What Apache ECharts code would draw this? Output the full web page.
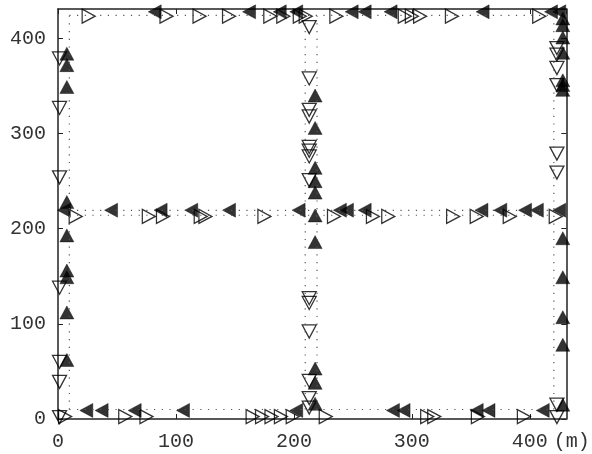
<!DOCTYPE html>
<html>
<head>
<meta charset="utf-8">
<script src="https://cdn.jsdelivr.net/npm/echarts@6/dist/echarts.min.js"></script>
<style>
  html, body { margin: 0; padding: 0; background: #fff; }
  #chart { width: 592px; height: 454px; }
</style>
</head>
<body>
<div id="chart"></div>
<script>
// Road network (m): lane centre lines drawn dotted
const roadX = [9.6, 209.6, 219.6, 420.4];      // north-south lanes
const roadY = [424.4, 219.4, 214.2, 10];       // east-west lanes
const roadSpan = [10, 424];

// Southbound vehicles: one lane per avenue
const southLaneX = [1.3, 213, 423];
const southY = [
  [379, 327, 254, 138, 60, 39, 2],
  [412, 358, 325, 318, 286, 282, 276, 251, 127, 122, 92, 40, 22, 12],
  [390, 383, 369, 351, 279, 259, 15, 2]
];

// Northbound vehicles
const northLaneX = [7.5, 218, 428];
const northY = [
  [384, 372, 349, 228, 193, 156, 149, 112, 62],
  [340, 306, 264, 250, 238, 214, 186, 53, 38, 16],
  [421, 414, 401, 385, 356, 351, 346, 190, 149, 107, 78, 15]
];

// Eastbound vehicles: one lane per street
const eastLaneY = [423.5, 213, 2.5];
const eastX = [
  [26, 92, 120, 145, 180, 191, 205, 210, 236, 294, 300, 307, 334, 408],
  [15, 77, 89, 121, 125, 175, 234, 267, 280, 335, 355, 383, 422],
  [6, 57, 75, 165, 173, 181, 189, 199, 227, 313, 319, 356, 395]
];

// Westbound vehicles
const westLaneY = [428, 219.5, 9];
const westX = [
  [82, 162, 188, 202, 249, 260, 282, 360, 418, 425],
  [5, 45, 87, 113, 145, 204, 239, 245, 260, 359, 375, 396, 406, 425],
  [24, 37, 65, 106, 202, 284, 293, 355, 365, 411]
];

const xTicks = [0, 100, 200, 300, 400];
const yTicks = [0, 100, 200, 300, 400];
const axisMax = 431;

const SYM = {
  up: 'path://M5,0L10,10L0,10Z',
  down: 'path://M0,0L10,0L5,10Z',
  right: 'path://M0,0L10,5L0,10Z',
  left: 'path://M10,0L0,5L10,10Z'
};

const FONT = 'Liberation Mono';
const FONT_SIZE = 20;
const AX = '#222';

function vertPoints(laneX, ys) {
  const out = [];
  laneX.forEach((x, i) => ys[i].forEach(y => out.push([x, y])));
  return out;
}
function horzPoints(laneY, xs) {
  const out = [];
  laneY.forEach((y, i) => xs[i].forEach(x => out.push([x, y])));
  return out;
}

const series = [];
roadX.forEach(x => series.push({
  type: 'line', silent: true, symbol: 'none',
  data: [[x, roadSpan[0]], [x, roadSpan[1]]],
  lineStyle: { color: '#555', width: 1.2, type: [1.2, 6.5] }
}));
roadY.forEach(y => series.push({
  type: 'line', silent: true, symbol: 'none',
  data: [[roadSpan[0] - 0.4, y], [roadSpan[1] - 3.6, y]],
  lineStyle: { color: '#555', width: 1.2, type: [1.2, 6.5] }
}));

const openStyle = { color: 'rgba(0,0,0,0)', borderColor: '#000', borderWidth: 1.3 };
const filledStyle = { color: '#000', borderColor: '#000', borderWidth: 0.5 };

series.push({
  type: 'scatter', silent: true, symbol: SYM.down, symbolSize: [14, 13],
  data: vertPoints(southLaneX, southY), itemStyle: openStyle
});
series.push({
  type: 'scatter', silent: true, symbol: SYM.right, symbolSize: [13, 14],
  data: horzPoints(eastLaneY, eastX), itemStyle: openStyle
});
series.push({
  type: 'scatter', silent: true, symbol: SYM.up, symbolSize: [14, 13],
  data: vertPoints(northLaneX, northY), itemStyle: filledStyle
});
series.push({
  type: 'scatter', silent: true, symbol: SYM.left, symbolSize: [13, 14],
  data: horzPoints(westLaneY, westX), itemStyle: filledStyle
});

const tickFmt = ticks => v => (ticks.indexOf(v) >= 0 ? String(v) : '');

function frameAxis(position, extra) {
  return Object.assign({
    type: 'value', min: 0, max: axisMax, interval: 100, position: position,
    axisLine: { onZero: false, lineStyle: { color: AX, width: 1.5 } },
    axisTick: { inside: true, length: 5, lineStyle: { color: AX, width: 1 } },
    axisLabel: { show: false },
    splitLine: { show: false }
  }, extra || {});
}

const chart = echarts.init(document.getElementById('chart'), null, { renderer: 'canvas' });
chart.setOption({
  animation: false,
  backgroundColor: '#fff',
  grid: { left: 58, right: 16, top: 9, bottom: 35, containLabel: false },
  xAxis: [
    frameAxis('bottom', {
      axisLabel: { fontFamily: FONT, fontSize: FONT_SIZE, color: '#333', margin: 13,
                   showMaxLabel: false, formatter: tickFmt(xTicks) },
      name: '(m)', nameLocation: 'end', nameGap: -17,
      nameTextStyle: { fontFamily: FONT, fontSize: FONT_SIZE, color: '#333',
                       verticalAlign: 'top', padding: [13, 0, 0, 0] }
    }),
    frameAxis('top')
  ],
  yAxis: [
    frameAxis('left', {
      axisLabel: { fontFamily: FONT, fontSize: FONT_SIZE, color: '#333', margin: 12,
                   showMaxLabel: false, formatter: tickFmt(yTicks) }
    }),
    frameAxis('right')
  ],
  series: series
});
</script>
</body>
</html>
